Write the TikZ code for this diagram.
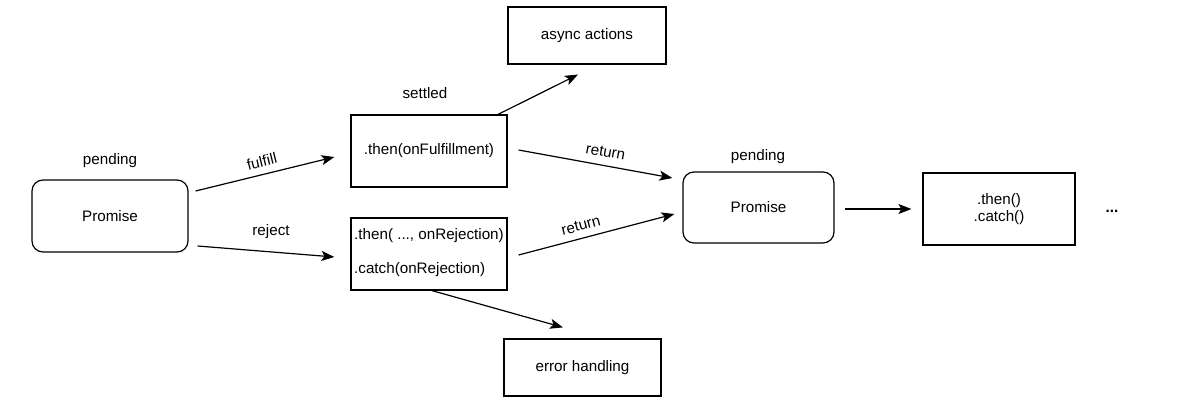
\documentclass[tikz,border=0pt]{standalone}
\usepackage{fontspec}
\setmainfont{Liberation Sans}
\usetikzlibrary{arrows.meta}
\begin{document}
\begin{tikzpicture}[x=1pt,y=-1pt,
  font=\fontsize{15.2}{18}\selectfont,
  box/.style={draw, line width=1.2pt, inner sep=0pt, align=center},
  rbox/.style={box, rounded corners=11pt},
  lbl/.style={inner sep=0pt},
  arr/.style={line width=1.2pt, -{Stealth[length=13pt,width=10pt,inset=3pt]}}]
\useasboundingbox (0,0) rectangle (1199,404);
% nodes
\node[rbox, minimum width=156pt, minimum height=72pt] (p1) at (110,216) {Promise};
\node[lbl] (pend1) at (110,161) {pending};
\node[box, minimum width=156pt, minimum height=72pt] (then) at (429,151) {.then(onFulfillment)};
\node[lbl] (settled) at (425,93) {settled};
\node[box, minimum width=156pt, minimum height=72pt] (rej) at (429,254) {};
\node[lbl, anchor=west] (rej1) at (354,236) {.then( ..., onRejection)};
\node[lbl, anchor=west] (rej2) at (354,270) {.catch(onRejection)};
\node[box, minimum width=158pt, minimum height=57pt] (async) at (587,35.5) {async actions};
\node[box, minimum width=157pt, minimum height=57pt] (err) at (582.5,367.5) {error handling};
\node[rbox, minimum width=151pt, minimum height=71pt] (p2) at (758.5,207.5) {Promise};
\node[lbl] (pend2) at (758,157) {pending};
\node[box, minimum width=152pt, minimum height=72pt] (tc) at (999,209) {.then()\\[-1pt].catch()};
\node[lbl] (dots) at (1112,211) {\textbf{...}};
% connectors
\draw[arr] ([shift={(7,-25)}]p1.east) -- node[lbl, pos=0.5, above=7pt, sloped] (lf) {fulfill} ([shift={(-16,6)}]then.west);
\draw[arr] ([shift={(9,30)}]p1.east) -- ([shift={(-16,3)}]rej.west);
\node[lbl] (lr) at (271,232) {reject};
\draw[arr] ([shift={(69,0)}]then.north) -- ([shift={(-9,10)}]async.south);
\draw[arr] ([shift={(11,-1)}]then.east) -- node[lbl, pos=0.55, above=8pt, sloped] (lret1) {return} ([shift={(-10,-29.5)}]p2.west);
\draw[arr] ([shift={(11,1)}]rej.east) -- node[lbl, pos=0.42, above=7pt, sloped] (lret2) {return} ([shift={(-8,6.5)}]p2.west);
\draw[arr] ([shift={(3,0)}]rej.south) -- ([shift={(-19.5,-11)}]err.north);
\draw[arr] ([shift={(10,1.5)}]p2.east) -- ([shift={(-11,0)}]tc.west);
\end{tikzpicture}
\end{document}
